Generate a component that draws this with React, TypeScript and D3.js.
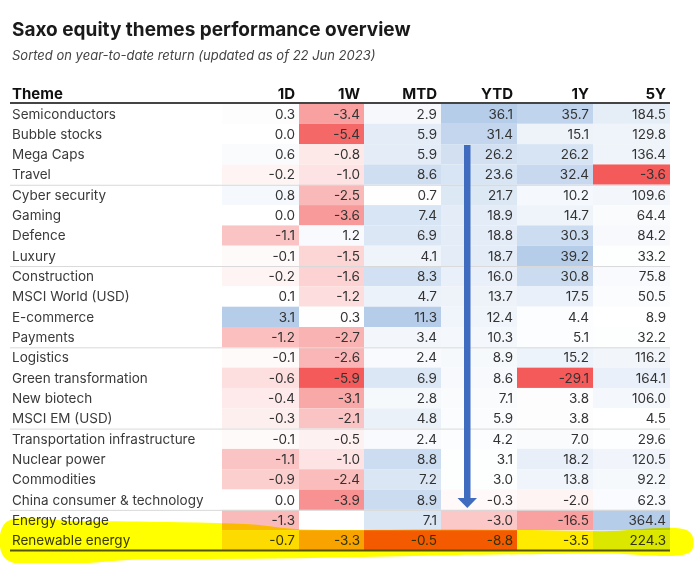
import React from 'react';
import * as d3 from 'd3';

const themes = [
  'Semiconductors', 'Bubble stocks', 'Mega Caps', 'Travel', 'Cyber security', 'Gaming',
  'Defence', 'Luxury', 'Construction', 'MSCI World (USD)', 'E-commerce', 'Payments',
  'Logistics', 'Green transformation', 'New biotech', 'MSCI EM (USD)',
  'Transportation infrastructure', 'Nuclear power', 'Commodities',
  'China consumer & technology', 'Energy storage', 'Renewable energy',
];
const columns = ['1D', '1W', 'MTD', 'YTD', '1Y', '5Y'];
const oneDay = [0.3, 0.0, 0.6, -0.2, 0.8, 0.0, -1.1, -0.1, -0.2, 0.1, 3.1, -1.2, -0.1, -0.6, -0.4, -0.3, -0.1, -1.1, -0.9, 0.0, -1.3, -0.7];
const oneWeek: (number | null)[] = [-3.4, -5.4, -0.8, -1.0, -2.5, -3.6, 1.2, -1.5, -1.6, -1.2, 0.3, -2.7, -2.6, -5.9, -3.1, -2.1, -0.5, -1.0, -2.4, -3.9, null, -3.3];
const monthToDate = [2.9, 5.9, 5.9, 8.6, 0.7, 7.4, 6.9, 4.1, 8.3, 4.7, 11.3, 3.4, 2.4, 6.9, 2.8, 4.8, 2.4, 8.8, 7.2, 8.9, 7.1, -0.5];
const yearToDate = [36.1, 31.4, 26.2, 23.6, 21.7, 18.9, 18.8, 18.7, 16.0, 13.7, 12.4, 10.3, 8.9, 8.6, 7.1, 5.9, 4.2, 3.1, 3.0, -0.3, -3.0, -8.8];
const oneYear = [35.7, 15.1, 26.2, 32.4, 10.2, 14.7, 30.3, 39.2, 30.8, 17.5, 4.4, 5.1, 15.2, -29.1, 3.8, 3.8, 7.0, 18.2, 13.8, -2.0, -16.5, -3.5];
const fiveYear = [184.5, 129.8, 136.4, -3.6, 109.6, 64.4, 84.2, 33.2, 75.8, 50.5, 8.9, 32.2, 116.2, 164.1, 106.0, 4.5, 29.6, 120.5, 92.2, 62.3, 364.4, 224.3];
const seriesByColumn: (number | null)[][] = [oneDay, oneWeek, monthToDate, yearToDate, oneYear, fiveYear];
const symmetricColumns = ['1D', '1W'];
const highlightedTheme = 'Renewable energy';

const W = 699;
const H = 563;
const colEdges = [222, 299, 364, 441, 517, 593, 670];
const tableLeft = 10;
const tableRight = 670;
const rowTop = 103.5;
const rowBottom = 550.5;
const RED = '#f45a5a';
const BLUE = '#b6cdea';
const FONT = 'Inter, "Noto Sans", sans-serif';

const fmt = (v: number) => v.toFixed(1);

export default function App() {
  const y = d3.scaleBand<string>().domain(themes).range([rowTop, rowBottom]).padding(0);
  const bh = y.bandwidth();

  const colorScales = seriesByColumn.map((vals, ci) => {
    const v = vals.filter((d): d is number => d != null);
    let mn = d3.min(v) as number;
    let mx = d3.max(v) as number;
    if (symmetricColumns.includes(columns[ci])) {
      const m = d3.max(v, (d) => Math.abs(d)) as number;
      mn = -m;
      mx = m;
    }
    const neg = d3.scaleLinear<string>().domain([mn, 0]).range([RED, '#ffffff']).interpolate(d3.interpolateRgb).clamp(true);
    const pos = d3.scalePow<string>().exponent(1.5).domain([0, mx]).range(['#ffffff', BLUE]).interpolate(d3.interpolateRgb).clamp(true);
    return (val: number) => (val < 0 ? neg(val) : pos(val));
  });

  const hlY = y(highlightedTheme) as number;
  const hlPts: [number, number][] = [
    [5, hlY - 7], [80, hlY - 9], [180, hlY - 8], [250, hlY - 6], [300, hlY - 1], [450, hlY - 1],
    [600, hlY + 1], [690, hlY + 2], [691, hlY + 21], [600, hlY + 23], [450, hlY + 25],
    [300, hlY + 28], [150, hlY + 29], [5, hlY + 28],
  ];
  const hlPath = d3.line().curve(d3.curveCatmullRomClosed)(hlPts) as string;

  const arrowX = 467;
  const arrowTop = 145;
  const arrowTip = 508;

  return (
    <svg width={W} height={H} style={{ position: 'absolute', left: 0, top: 0, background: '#fff' }} fontFamily={FONT}>
      <rect x={0} y={0} width={W} height={H} fill="#fff" />
      <text x={12} y={36} fontSize={19} fontWeight={700} fill="#1a1a1a">Saxo equity themes performance overview</text>
      <text x={12} y={60} fontSize={13} fontStyle="italic" fill="#444">Sorted on year-to-date return (updated as of 22 Jun 2023)</text>

      {/* header */}
      <text x={12} y={99} fontSize={15} fontWeight={700} fill="#111">Theme</text>
      {columns.map((c, ci) => (
        <text key={c} x={colEdges[ci + 1] - 4} y={99} fontSize={15} fontWeight={700} fill="#111" textAnchor="end">{c}</text>
      ))}

      {/* cells */}
      {themes.map((t, ri) => (
        <g key={t}>
          {seriesByColumn.map((vals, ci) => {
            const v = vals[ri];
            if (v == null) return null;
            return (
              <rect key={ci} x={colEdges[ci]} y={y(t)} width={colEdges[ci + 1] - colEdges[ci]} height={bh} fill={colorScales[ci](v)} />
            );
          })}
        </g>
      ))}

      {/* separators every 4 rows */}
      {themes.map((t, ri) => (ri > 0 && ri % 4 === 0 ? (
        <line key={t} x1={tableLeft} x2={tableRight} y1={(y(t) as number) + 0.5} y2={(y(t) as number) + 0.5} stroke="#d9d9d9" strokeWidth={1} />
      ) : null))}

      {/* text */}
      {themes.map((t, ri) => (
        <g key={t}>
          <text x={12} y={(y(t) as number) + bh / 2} dy="0.36em" fontSize={13.5} fill="#3a3a3a">{t}</text>
          {seriesByColumn.map((vals, ci) => {
            const v = vals[ri];
            if (v == null) return null;
            return (
              <text key={ci} x={colEdges[ci + 1] - 4} y={(y(t) as number) + bh / 2} dy="0.36em" fontSize={13.5} fill="#333" textAnchor="end">{fmt(v)}</text>
            );
          })}
        </g>
      ))}

      <line x1={tableLeft} x2={tableRight} y1={rowTop - 0.5} y2={rowTop - 0.5} stroke="#444" strokeWidth={2} />
      <line x1={tableLeft} x2={tableRight} y1={rowBottom} y2={rowBottom} stroke="#555" strokeWidth={2} />

      {/* arrow */}
      <rect x={arrowX - 3} y={arrowTop} width={6.5} height={arrowTip - arrowTop - 9} fill="#3f6cbf" />
      <path d={`M${arrowX - 9.5},${arrowTip - 10}L${arrowX + 10},${arrowTip - 10}L${arrowX + 0.3},${arrowTip}Z`} fill="#3f6cbf" />

      {/* highlighter */}
      <path d={hlPath} fill="#ffff00" style={{ mixBlendMode: 'multiply' }} />
    </svg>
  );
}
